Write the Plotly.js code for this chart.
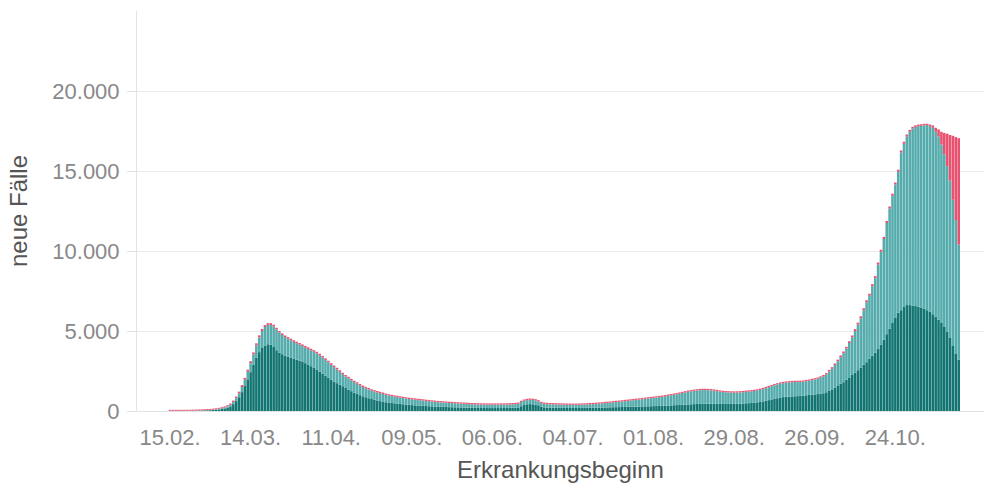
<!DOCTYPE html>
<html>
<head>
<meta charset="utf-8">
<script src="https://cdn.plot.ly/plotly-3.0.1.min.js"></script>
<style>
html,body{margin:0;padding:0;background:#fff;}
#chart{width:984px;height:487px;}
#chart .bars path{shape-rendering:geometricPrecision !important;}
</style>
</head>
<body>
<div id="chart"></div>
<script>
// first day of the daily series (Erkrankungsbeginn)
var startDate = '2020-02-15';

// cases with known onset date (dark teal)
var bekannt = [
8,8,9,9,11,11,13,14,18,21,25,28,35,42,50,
65,80,100,125,160,215,290,430,620,860,1180,1560,1980,2430,2880,
3330,3680,3940,4090,4170,4140,4000,3800,3650,3550,3450,3380,3320,3260,3200,
3150,3100,2990,2900,2800,2700,2600,2450,2330,2200,2080,1960,1840,1740,1640,
1550,1440,1340,1240,1150,1070,990,920,860,800,750,700,660,620,580,
550,520,500,480,460,440,420,400,385,370,355,340,330,320,310,
300,290,280,270,262,255,248,240,235,230,225,220,215,210,205,
200,200,195,190,190,185,185,185,185,185,185,190,190,195,200,
205,220,300,380,420,430,420,400,360,260,230,215,210,205,200,
200,195,195,190,190,190,190,190,195,195,200,200,205,205,210,
215,220,225,230,235,240,245,250,255,260,265,270,275,280,285,
290,295,300,305,310,315,320,330,340,350,360,370,380,390,400,
410,420,430,435,440,445,450,450,450,450,445,440,440,440,440,
440,445,450,460,470,480,490,500,520,540,570,600,640,680,720,
760,800,840,870,890,900,910,920,930,940,960,980,1000,1020,1040,
1060,1080,1110,1170,1250,1350,1450,1600,1700,1800,1950,2100,2250,2400,2550,
2700,2900,3050,3250,3450,3650,3900,4150,4450,4800,5150,5500,5850,6150,6300,
6500,6620,6620,6590,6560,6520,6470,
6400,6300,6200,6050,5900,5700,5500,5250,4950,4600,4100,3600,3200
];

// cases with imputed onset date (light teal)
var imputiert = [
2,2,3,3,4,4,5,6,7,9,10,12,15,18,20,
25,30,40,50,60,75,100,130,180,240,320,390,470,550,650,
770,920,1060,1160,1210,1240,1280,1300,1250,1200,1170,1140,1100,1060,1030,
1000,960,970,980,990,1000,1000,1030,1010,990,960,930,900,860,810,
750,720,710,680,650,630,610,580,560,550,520,510,500,490,480,
460,450,430,420,410,400,390,380,365,360,355,350,340,330,320,
310,300,290,280,278,275,267,260,255,250,245,240,235,230,225,
220,215,215,215,210,215,210,210,210,210,215,210,215,215,220,
225,230,260,260,260,270,270,260,240,230,220,215,210,210,210,
205,205,200,200,195,195,195,200,200,205,210,220,225,235,245,
255,270,280,290,305,320,330,345,360,375,390,405,420,435,450,
465,485,500,515,530,550,570,590,610,630,650,670,700,730,760,
790,810,830,845,860,865,860,850,840,820,795,770,750,730,720,
710,705,700,700,700,710,720,730,730,740,750,770,790,810,830,
850,860,870,870,880,890,890,890,880,880,870,880,890,910,930,
960,1010,1060,1110,1220,1290,1420,1510,1660,1810,1950,2150,2350,2600,2850,
3100,3400,3750,3950,4350,4650,5250,5800,6300,6950,7500,7950,8300,8800,9850,
10200,10530,10830,11060,11190,11280,11350,
11450,11570,11600,11650,11550,11450,11150,10800,10350,9800,9100,8340,7200
];

// nowcast estimate (red)
var nowcast = [
60,60,60,60,60,60,60,60,60,60,60,60,60,60,60,
60,60,60,60,70,70,80,90,100,110,120,120,130,130,130,
130,130,130,120,110,110,110,100,100,100,100,100,100,100,100,
100,100,100,100,100,100,100,100,100,100,100,100,100,100,100,
90,90,90,90,90,90,90,90,90,90,90,90,90,90,90,
80,80,80,80,80,80,80,80,80,80,80,80,80,80,80,
80,80,80,80,80,80,80,80,80,80,80,80,80,80,80,
80,80,80,80,80,80,80,80,80,80,80,80,80,80,80,
80,80,80,80,80,80,80,80,80,80,80,80,80,80,80,
80,80,80,80,80,80,80,80,80,80,80,80,80,80,80,
80,80,80,80,80,80,80,80,80,80,80,80,80,80,80,
80,80,80,80,80,80,80,80,80,80,80,80,80,80,80,
80,80,80,80,80,80,80,80,80,80,80,80,80,80,80,
80,80,80,80,80,80,80,80,80,80,80,80,80,80,80,
80,80,80,80,80,80,80,80,80,80,80,80,80,80,80,
80,80,80,90,100,100,100,100,110,110,110,110,120,120,120,
120,120,120,130,130,130,130,130,130,130,130,130,130,130,130,
130,130,120,110,100,100,100,
100,80,100,150,250,450,800,1330,2030,2850,4000,5180,6650
];

var tickDates = ['2020-02-15','2020-03-14','2020-04-11','2020-05-09','2020-06-06',
                 '2020-07-04','2020-08-01','2020-08-29','2020-09-26','2020-10-24'];
var tickLabels = ['15.02.','14.03.','11.04.','09.05.','06.06.',
                  '04.07.','01.08.','29.08.','26.09.','24.10.'];
var yTicks = [0, 5000, 10000, 15000, 20000];

// build the day axis
var days = [];
var t0 = new Date(startDate + 'T00:00:00Z').getTime();
for (var i = 0; i < bekannt.length; i++) {
  var d = new Date(t0 + i * 86400000);
  days.push(d.toISOString().slice(0, 10));
}

var colDark = '#137571', colLight = '#56acac', colRed = '#e8516f';

var traces = [
  {type:'bar', name:'Erkrankungsbeginn bekannt', x:days, y:bekannt,
   marker:{color:colDark, line:{width:0}}},
  {type:'bar', name:'Erkrankungsbeginn imputiert', x:days, y:imputiert,
   marker:{color:colLight, line:{width:0}}},
  {type:'bar', name:'Nowcast', x:days, y:nowcast,
   marker:{color:colRed, line:{width:0}}}
];

var layout = {
  width:984, height:487,
  margin:{l:137, r:0, t:11, b:76, pad:0},
  paper_bgcolor:'#fff', plot_bgcolor:'#fff',
  separators:',.',
  barmode:'stack', bargap:0.1,
  showlegend:false,
  font:{family:'"Liberation Sans", Arial, sans-serif', size:22, color:'#888'},
  xaxis:{
    type:'date',
    range:['2020-02-03 12:40', '2020-11-23 19:00'],
    tickmode:'array', tickvals:tickDates, ticktext:tickLabels,
    showgrid:false, zeroline:false,
    showline:true, linecolor:'#e3e3e3', linewidth:1,
    ticks:'', ticklabelstandoff:7,
    tickfont:{size:22, color:'#888'},
    title:{text:'Erkrankungsbeginn', font:{size:24, color:'#555'}, standoff:11}
  },
  yaxis:{
    range:[0, 25000],
    tickmode:'array', tickvals:yTicks, tickformat:',d',
    showgrid:true, gridcolor:'#ececec', gridwidth:1,
    zeroline:false,
    showline:true, linecolor:'#e3e3e3', linewidth:1,
    ticks:'outside', ticklen:9, tickcolor:'#e3e3e3',
    ticklabelstandoff:3,
    tickfont:{size:22, color:'#888'},
    title:{text:'neue Fälle', font:{size:24, color:'#555'}, standoff:17}
  }
};

Plotly.newPlot('chart', traces, layout, {displayModeBar:false, staticPlot:true});
</script>
</body>
</html>
